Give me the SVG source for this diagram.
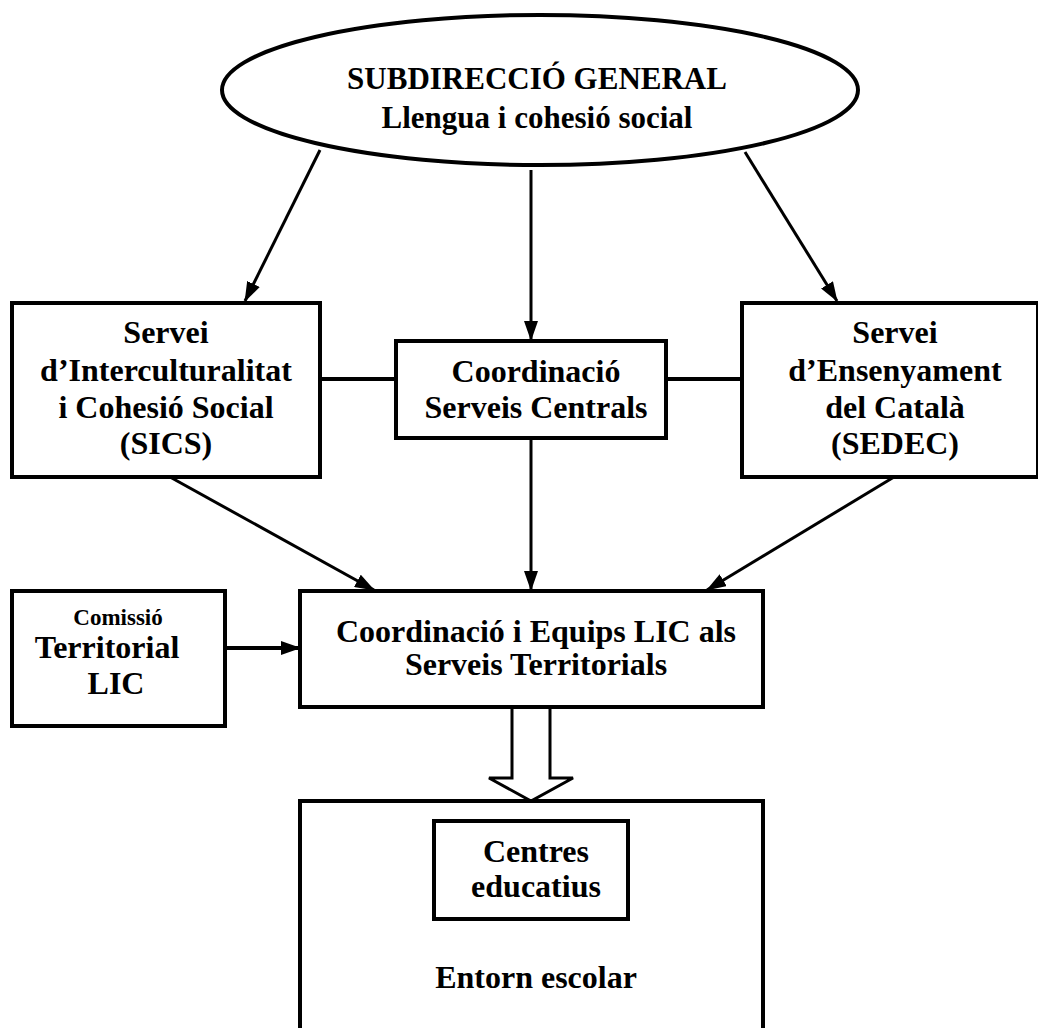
<svg xmlns="http://www.w3.org/2000/svg" width="1038" height="1028" viewBox="0 0 1038 1028">
<defs>
<marker id="ah" markerWidth="20" markerHeight="14" refX="19" refY="7" orient="auto" markerUnits="userSpaceOnUse">
<path d="M0,0 L20,7 L0,14 Z" fill="#000"/>
</marker>
<style>
.box{fill:#fff;stroke:#000;stroke-width:4}
.t{font-family:"Liberation Serif","Times New Roman",serif;font-weight:bold;font-size:32px;text-anchor:middle;fill:#000}
.c{stroke:#000;stroke-width:3;fill:none}
.th{stroke:#000;stroke-width:4;fill:none}
</style>
</defs>
<rect width="1038" height="1028" fill="#fff"/>
<g id="connectors">
<line class="c" x1="320" y1="150" x2="245" y2="301" marker-end="url(#ah)"/>
<line class="c" x1="531" y1="170" x2="531" y2="340" marker-end="url(#ah)"/>
<line class="c" x1="745" y1="152" x2="837" y2="301" marker-end="url(#ah)"/>
<line class="th" x1="320" y1="379" x2="396" y2="379"/>
<line class="th" x1="666" y1="379" x2="742" y2="379"/>
<line class="c" x1="170" y1="477" x2="374" y2="590" marker-end="url(#ah)"/>
<line class="c" x1="531" y1="438" x2="531" y2="590" marker-end="url(#ah)"/>
<line class="c" x1="894" y1="477" x2="707" y2="590" marker-end="url(#ah)"/>
<line class="th" x1="225" y1="648" x2="300" y2="648" marker-end="url(#ah)"/>
<path class="c" d="M512,707 L512,778 L489,778 L531,801 L573,778 L550,778 L550,707" style="fill:#fff"/>
</g>
<g id="subdireccio">
<ellipse cx="540" cy="90" rx="318" ry="75" class="box"/>
<text class="t" x="537" y="89" style="font-size:31px">SUBDIRECCIÓ GENERAL</text>
<text class="t" x="537" y="128" style="font-size:31px">Llengua i cohesió social</text>
</g>
<g id="sics">
<rect class="box" x="12" y="303" width="308" height="174"/>
<text class="t" x="166" y="343">Servei</text>
<text class="t" x="166" y="381">d’Interculturalitat</text>
<text class="t" x="166" y="418">i Cohesió Social</text>
<text class="t" x="166" y="454">(SICS)</text>
</g>
<g id="coord-central">
<rect class="box" x="396" y="341" width="270" height="97"/>
<text class="t" x="536" y="382">Coordinació</text>
<text class="t" x="536" y="418">Serveis Centrals</text>
</g>
<g id="sedec">
<rect class="box" x="742" y="303" width="296" height="174"/>
<text class="t" x="895" y="343">Servei</text>
<text class="t" x="895" y="381">d’Ensenyament</text>
<text class="t" x="895" y="418">del Català</text>
<text class="t" x="895" y="454">(SEDEC)</text>
</g>
<g id="comissio">
<rect class="box" x="12" y="591" width="213" height="135"/>
<text class="t" x="118" y="625" style="font-size:23px">Comissió</text>
<text class="t" x="107" y="658">Territorial</text>
<text class="t" x="116" y="694">LIC</text>
</g>
<g id="coord-territorial">
<rect class="box" x="300" y="591" width="463" height="116"/>
<text class="t" x="536" y="642">Coordinació i Equips LIC als</text>
<text class="t" x="536" y="675">Serveis Territorials</text>
</g>
<g id="entorn">
<rect class="box" x="300" y="801" width="463" height="240"/>
<text class="t" x="536" y="988">Entorn escolar</text>
</g>
<g id="centres">
<rect class="box" x="434" y="821" width="194" height="98"/>
<text class="t" x="536" y="862">Centres</text>
<text class="t" x="536" y="897">educatius</text>
</g>
</svg>
